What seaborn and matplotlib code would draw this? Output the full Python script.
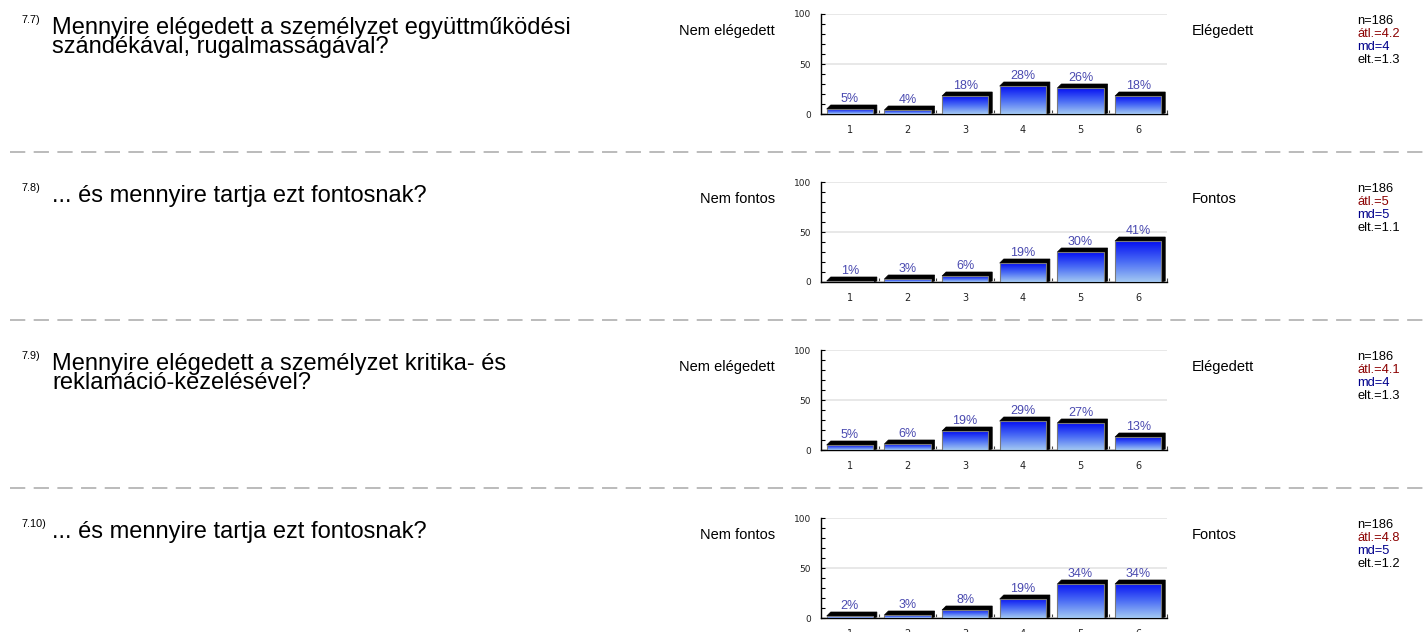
import numpy as np
import pandas as pd
import seaborn as sns
import matplotlib
matplotlib.use("Agg")
import matplotlib.pyplot as plt
from matplotlib.colors import LinearSegmentedColormap
from matplotlib.patches import Polygon
from matplotlib.lines import Line2D
from matplotlib.ticker import MultipleLocator, FixedLocator

# data
categories = ["1", "2", "3", "4", "5", "6"]
numbers = ["7.7)", "7.8)", "7.9)", "7.10)"]
questions = [
    "Mennyire elégedett a személyzet együttműködési\nszándékával, rugalmasságával?",
    "... és mennyire tartja ezt fontosnak?",
    "Mennyire elégedett a személyzet kritika- és\nreklamáció-kezelésével?",
    "... és mennyire tartja ezt fontosnak?",
]
left_labels = ["Nem elégedett", "Nem fontos", "Nem elégedett", "Nem fontos"]
right_labels = ["Elégedett", "Fontos", "Elégedett", "Fontos"]
pct_77 = [5, 4, 18, 28, 26, 18]
pct_78 = [1, 3, 6, 19, 30, 41]
pct_79 = [5, 6, 19, 29, 27, 13]
pct_710 = [2, 3, 8, 19, 34, 34]
n_vals = [186, 186, 186, 186]
mean_vals = ["4.2", "5", "4.1", "4.8"]
median_vals = ["4", "5", "4", "5"]
sd_vals = ["1.3", "1.1", "1.3", "1.2"]

series = [pct_77, pct_78, pct_79, pct_710]

sns.set_theme(style="white")
plt.rcParams["font.family"] = ["Liberation Sans", "DejaVu Sans"]

W, H = 1425, 632
fig = plt.figure(figsize=(W / 100, H / 100), dpi=100)
fig.patch.set_facecolor("white")

grad_cmap = LinearSegmentedColormap.from_list("bar", ["#a3c9f2", "#4a6cf5", "#0510f2"])
grad = np.linspace(0, 1, 256).reshape(-1, 1)

row_h = 168
for i, vals in enumerate(series):
    top = 14 + row_h * i
    ax = fig.add_axes([821 / W, 1 - (top + 100) / H, 346 / W, 100 / H])
    df = pd.DataFrame({"cat": categories, "pct": vals})
    sns.barplot(data=df, x="cat", y="pct", ax=ax, color="#2040f0", width=0.8,
                edgecolor="#7a7a7a", linewidth=0.8, zorder=3)
    ax.set_xlim(-0.5, 5.5)
    ax.set_ylim(0, 100)
    ax.set_xlabel("")
    ax.set_ylabel("")
    for s in ["top", "right"]:
        ax.spines[s].set_visible(False)
    for s in ["left", "bottom"]:
        ax.spines[s].set_color("black")
        ax.spines[s].set_linewidth(1.0)
    ax.yaxis.set_major_locator(FixedLocator([0, 50, 100]))
    ax.yaxis.set_minor_locator(MultipleLocator(10))
    ax.xaxis.set_minor_locator(FixedLocator(np.arange(0.5, 5.6, 1)))
    ax.tick_params(axis="y", which="both", direction="in", left=True, length=3,
                   width=0.8, color="black", labelsize=6.5, labelcolor="#222222", pad=7)
    ax.tick_params(axis="x", which="major", length=0, labelsize=7,
                   labelcolor="#222222", pad=8)
    ax.tick_params(axis="x", which="minor", direction="in", bottom=True,
                   length=3, width=0.8, color="#444444")
    ax.grid(axis="y", which="major", color="#e4e4e4", linewidth=1.2, zorder=0)
    ax.set_axisbelow(True)
    for lab in ax.get_yticklabels() + ax.get_xticklabels():
        lab.set_family("DejaVu Sans")

    fig.canvas.draw()
    d = 4
    inv = ax.transData.inverted()
    for p in list(ax.patches):
        x0, y0 = p.get_x(), p.get_y()
        x1, y1 = x0 + p.get_width(), y0 + p.get_height()
        (px0, py0), (px1, py1) = ax.transData.transform([(x0, y0), (x1, y1)])
        pts = [(px0, py1), (px0 + d, py1 + d), (px1 + d, py1 + d),
               (px1 + d, py0 + 1), (px1, py0)]
        shadow = Polygon(inv.transform(pts), closed=True, facecolor="black",
                         edgecolor="black", linewidth=0.5, zorder=2)
        ax.add_patch(shadow)
        im = ax.imshow(grad, extent=[x0, x1, y0, y1], origin="lower",
                       cmap=grad_cmap, aspect="auto", zorder=3.5)
        im.set_clip_path(p)
        p.set_facecolor("none")
        p.set_zorder(4)
    ax.set_xlim(-0.5, 5.5)
    ax.set_ylim(0, 100)
    bars = [p for p in ax.patches if not isinstance(p, Polygon)]
    for p, v in zip(bars, vals):
        ax.text(p.get_x() + p.get_width() / 2, p.get_height() + 4, f"{v}%",
                ha="center", va="bottom", fontsize=9, color="#4a4ab0", zorder=5)

    # texts around the chart
    fig.text(22 / W, 1 - (top + 6) / H, numbers[i], fontsize=7.8, va="center",
             ha="left", color="black")
    fig.text(52 / W, 1 - (top + 3) / H, questions[i], fontsize=17,
             va="top", ha="left", color="black", linespacing=0.82)
    fig.text(775 / W, 1 - (top + 17) / H, left_labels[i], fontsize=10.5,
             va="center", ha="right", color="black")
    fig.text(1192 / W, 1 - (top + 17) / H, right_labels[i], fontsize=10.5,
             va="center", ha="left", color="black")
    stats = [(f"n={n_vals[i]}", "black"), (f"átl.={mean_vals[i]}", "#8b0000"),
             (f"md={median_vals[i]}", "#00008b"), (f"elt.={sd_vals[i]}", "black")]
    for k, (t, c) in enumerate(stats):
        fig.text(1357 / W, 1 - (top + 7.5 + 12.8 * k) / H, t, fontsize=9.3,
                 va="center", ha="left", color=c)

    if i < 3:
        ys = 1 - (top + 138) / H
        fig.add_artist(Line2D([10 / W, 1], [ys, ys], transform=fig.transFigure,
                              color="#a8a8a8", linewidth=1.1,
                              dashes=(10, 5.5)))

fig.savefig("out.png", dpi=100, facecolor="white")
